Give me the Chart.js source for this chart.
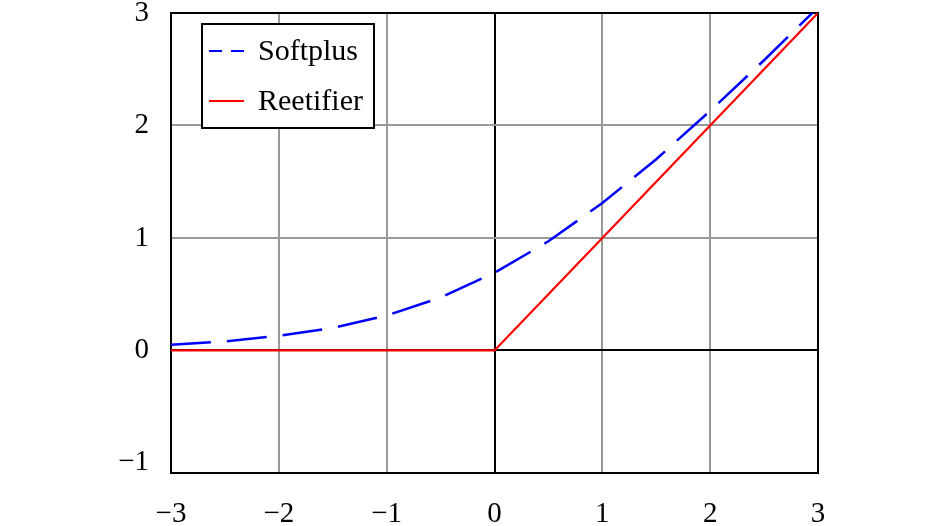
<!DOCTYPE html>
<html>
<head>
<meta charset="utf-8">
<script src="https://cdn.jsdelivr.net/npm/chart.js@4/dist/chart.umd.min.js"></script>
<style>
  body { margin: 0; background: #fff; }
  #wrap { width: 945px; height: 526px; }
</style>
</head>
<body>
<div id="wrap"><canvas id="myChart"></canvas></div>
<script>
const xValues = [-3, -2.5, -2, -1.5, -1, -0.5, 0, 0.5, 1, 1.5, 2, 2.5, 3];
const softplusValues = [0.05, 0.08, 0.13, 0.20, 0.31, 0.47, 0.69, 0.97, 1.31, 1.70, 2.13, 2.58, 3.05];
const rectifierValues = [0, 0, 0, 0, 0, 0, 0, 0.5, 1, 1.5, 2, 2.5, 3];
const seriesNames = ["Softplus", "Reetifier"];
const xTicks = [-3, -2, -1, 0, 1, 2, 3];
const yTicks = [-1, 0, 1, 2, 3];

Chart.defaults.font.family = "'Liberation Serif', 'Times New Roman', serif";
Chart.defaults.color = "#000";

function fmt(v) {
    return v < 0 ? "\u2212" + Math.abs(v) : String(v);
}

// frame round the plot area, drawn after the grid
const framePlugin = {
    id: "frame",
    beforeDatasetsDraw(chart) {
        const a = chart.chartArea, c = chart.ctx;
        c.save();
        c.strokeStyle = "#000";
        c.lineWidth = 2;
        c.strokeRect(a.left, a.top, a.right - a.left, a.bottom - a.top);
        c.restore();
    }
};

// legend box inside the plot, top left
const legendBox = {
    id: "legendBox",
    afterDraw(chart) {
        const a = chart.chartArea, c = chart.ctx;
        const x0 = a.left + 31, y0 = a.top + 11;
        c.save();
        c.fillStyle = "#fff";
        c.fillRect(x0, y0, 172, 104);
        c.strokeStyle = "#000";
        c.lineWidth = 2;
        c.strokeRect(x0, y0, 172, 104);
        c.font = "30px 'Liberation Serif'";
        c.textBaseline = "middle";
        chart.data.datasets.forEach((ds, i) => {
            const y = y0 + 27 + i * 50;
            c.strokeStyle = ds.borderColor;
            c.lineWidth = 2;
            c.setLineDash(i === 0 ? [13, 9] : []);
            c.beginPath();
            c.moveTo(x0 + 7, y);
            c.lineTo(x0 + 42, y);
            c.stroke();
            c.setLineDash([]);
            c.fillStyle = "#000";
            c.fillText(ds.label, x0 + 56, y + 1);
        });
        c.restore();
    }
};

new Chart("myChart", {
    type: "line",
    data: {
        datasets: [{
            label: seriesNames[0],
            data: xValues.map((x, i) => ({ x: x, y: softplusValues[i] })),
            borderColor: "#0000ff",
            borderWidth: 2.5,
            borderDash: [40, 16],
            pointRadius: 0,
            fill: false
        }, {
            label: seriesNames[1],
            data: xValues.map((x, i) => ({ x: x, y: rectifierValues[i] })),
            borderColor: "#ff0000",
            borderWidth: 2.2,
            pointRadius: 0,
            fill: false
        }]
    },
    options: {
        responsive: true,
        maintainAspectRatio: false,
        animation: false,
        layout: { padding: { left: 0, top: 13, right: 127, bottom: 0 } },
        plugins: {
            legend: { display: false },
            tooltip: { enabled: false }
        },
        scales: {
            x: {
                type: "linear",
                min: -3,
                max: 3,
                afterBuildTicks: s => { s.ticks = xTicks.map(v => ({ value: v })); },
                afterFit: s => {
                    s.height = 53;
                    s.paddingLeft = 0; s.paddingRight = 0;
                },
                border: { display: false },
                grid: {
                    drawTicks: false,
                    lineWidth: 2,
                    color: ctx => ctx.tick && ctx.tick.value === 0 ? "#000" : "#999"
                },
                ticks: {
                    padding: 24,
                    font: { size: 29 },
                    maxRotation: 0,
                    callback: v => fmt(v)
                }
            },
            y: {
                min: -1.09,
                max: 3,
                afterBuildTicks: s => { s.ticks = yTicks.map(v => ({ value: v })); },
                afterFit: s => {
                    s.width = 171;
                    s.paddingTop = 0; s.paddingBottom = 0;
                },
                border: { display: false },
                grid: {
                    drawTicks: false,
                    lineWidth: 2,
                    color: ctx => {
                        if (!ctx.tick) return "#999";
                        if (ctx.tick.value === 0) return "#000";
                        if (ctx.tick.value === -1) return "rgba(0,0,0,0)";
                        return "#999";
                    }
                },
                ticks: {
                    padding: 22,
                    font: { size: 29 },
                    callback: v => fmt(v)
                }
            }
        }
    },
    plugins: [framePlugin, legendBox]
});
</script>
</body>
</html>
